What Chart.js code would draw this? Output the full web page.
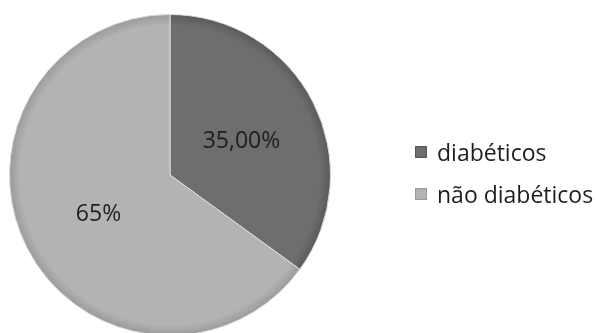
<!DOCTYPE html>
<html><head><meta charset="utf-8">
<script src="https://cdn.jsdelivr.net/npm/chart.js@4/dist/chart.umd.min.js"></script>
<style>
html,body{margin:0;padding:0;background:#fff;overflow:hidden}
#wrap{position:relative;width:596px;height:340px}
</style>
</head><body>
<div id="wrap"><canvas id="c"></canvas></div>
<script>
const categories = ['diabéticos', 'não diabéticos'];
const values = [35, 65];
const valueLabels = ['35,00%', '65%'];
const sliceColors = ['#6e6e6e', '#b3b3b3'];
const rimColors = ['#5a5a5a', '#9a9a9a'];

const FONT = '"Open Sans", "DejaVu Sans", sans-serif';

function sliceFill(ctx) {
  const i = ctx.dataIndex;
  const chart = ctx.chart;
  const a = chart.chartArea;
  if (!a) return sliceColors[i];
  const cx = (a.left + a.right) / 2, cy = (a.top + a.bottom) / 2;
  const r = Math.min(a.right - a.left, a.bottom - a.top) / 2;
  const g = chart.ctx.createRadialGradient(cx, cy, 0, cx, cy, r);
  g.addColorStop(0, sliceColors[i]);
  g.addColorStop(0.93, sliceColors[i]);
  g.addColorStop(1, rimColors[i]);
  return g;
}

const labelPlugin = {
  id: 'sliceLabels',
  afterDatasetsDraw(chart) {
    const ctx = chart.ctx;
    const meta = chart.getDatasetMeta(0);
    ctx.save();
    ctx.font = '23px ' + FONT;
    ctx.fillStyle = '#1e1e1e';
    ctx.textAlign = 'center';
    ctx.textBaseline = 'middle';
    meta.data.forEach((arc, i) => {
      const p = arc.tooltipPosition();
      ctx.fillText(valueLabels[i], p.x, p.y + 3);
    });
    ctx.restore();
  }
};

const legendPlugin = {
  id: 'sideLegend',
  afterDraw(chart) {
    const ctx = chart.ctx;
    ctx.save();
    ctx.font = '23px ' + FONT;
    ctx.textAlign = 'left';
    ctx.textBaseline = 'middle';
    categories.forEach((name, i) => {
      const cy = 152 + i * 42;
      ctx.fillStyle = sliceColors[i];
      ctx.fillRect(415, cy - 6, 12, 12);
      ctx.strokeStyle = rimColors[i];
      ctx.lineWidth = 1;
      ctx.strokeRect(415.5, cy - 5.5, 11, 11);
      ctx.fillStyle = '#1e1e1e';
      ctx.fillText(name, 437, cy + 2);
    });
    ctx.restore();
  }
};

new Chart(document.getElementById('c'), {
  type: 'pie',
  data: {
    labels: categories,
    datasets: [{
      data: values,
      backgroundColor: sliceFill,
      borderColor: '#dcdcdc',
      borderWidth: 1
    }]
  },
  options: {
    responsive: true,
    maintainAspectRatio: false,
    animation: false,
    layout: { padding: { left: 9, top: 14, right: 265, bottom: 4 } },
    plugins: {
      legend: { display: false },
      tooltip: { enabled: false }
    }
  },
  plugins: [labelPlugin, legendPlugin]
});
</script>
</body></html>
